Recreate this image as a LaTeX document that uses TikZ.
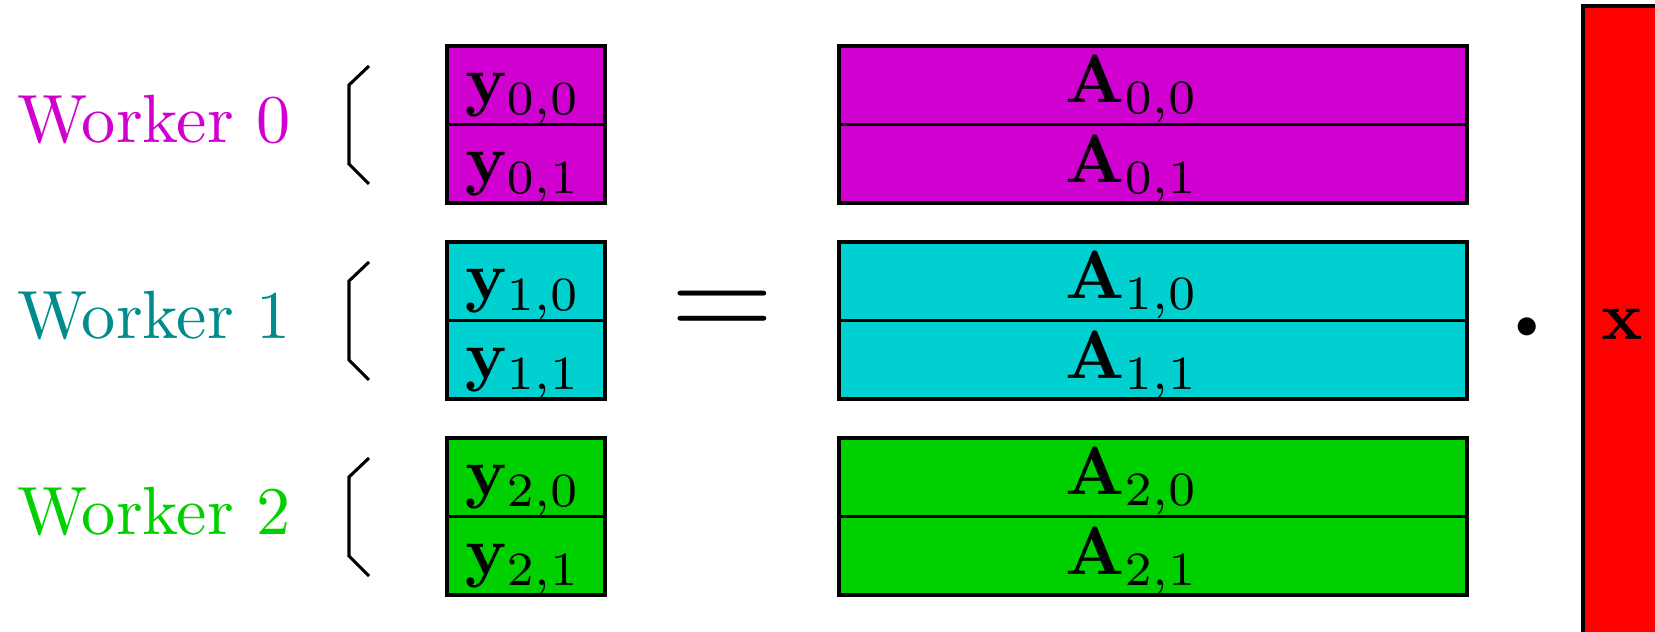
\documentclass[tikz,border=0pt]{standalone}
\definecolor{wmag}{RGB}{208,0,208}
\definecolor{wcyan}{RGB}{0,208,208}
\definecolor{wteal}{RGB}{0,140,140}
\definecolor{wgreen}{RGB}{0,208,0}
\definecolor{wred}{RGB}{255,0,0}
\begin{document}
\begin{tikzpicture}[x=0.1465pt,y=-0.1465pt,
  cell/.style={draw=black,line width=0.45pt},
  lbl/.style={inner sep=0pt,anchor=base},
  wlbl/.style={inner sep=0pt,anchor=base west},
  brace/.style={draw=black,line width=0.45pt}]
\useasboundingbox (0,0) rectangle (1655,632);
\clip (0,0) rectangle (1655,632);
% vector x (runs past the page edge)
\path[cell,fill=wred] (1583,6) rectangle (1662,700);
\node[lbl] (xlab) at (1622,340) {$\mathbf{x}$};
% product dot and equality sign
\node[inner sep=0pt] (dot) at (1527,332) {\scalebox{2.5}{$\cdot$}};
\node[lbl,font=\huge] (eq) at (722,342) {$=$};
% one block of rows per worker
\foreach \k/\fc/\tc in {0/wmag/wmag,1/wcyan/wteal,2/wgreen/wgreen} {
  \pgfmathsetmacro\T{46+196*\k}
  \node[wlbl,text=\tc] (w\k) at (16,\T+97) {Worker \k};
  \draw[brace] (369,\T+20) -- (349,\T+39) -- (349,\T+118) -- (369,\T+138);
  % output blocks y
  \path[cell,fill=\fc] (447,\T) rectangle (605,\T+78.5);
  \path[cell,fill=\fc] (447,\T+78.5) rectangle (605,\T+157);
  \node[lbl] (y\k a) at (523,\T+58) {$\mathbf{y}_{\k,0}$};
  \node[lbl] (y\k b) at (523,\T+137) {$\mathbf{y}_{\k,1}$};
  % matrix row blocks A
  \path[cell,fill=\fc] (839,\T) rectangle (1467,\T+78.5);
  \path[cell,fill=\fc] (839,\T+78.5) rectangle (1467,\T+157);
  \node[lbl] (A\k a) at (1132,\T+57) {$\mathbf{A}_{\k,0}$};
  \node[lbl] (A\k b) at (1132,\T+137) {$\mathbf{A}_{\k,1}$};
}
\end{tikzpicture}
\end{document}
